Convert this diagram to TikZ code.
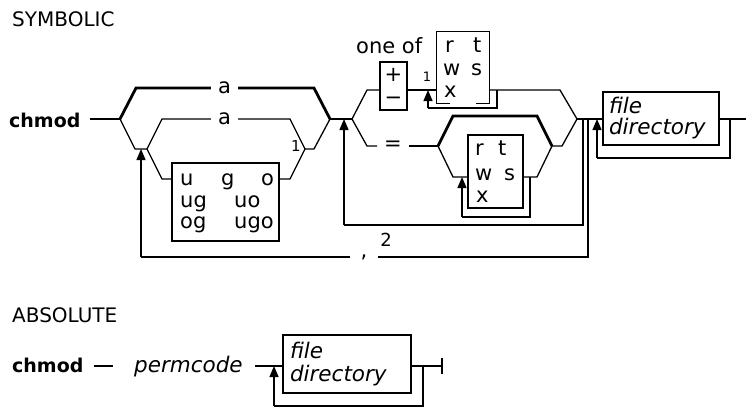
\documentclass[tikz,border=0pt]{standalone}
\usepackage{fontspec}
\setmainfont{DejaVu Sans}
\usetikzlibrary{arrows.meta}

\tikzset{
  rail/.style={line width=1.3pt},
  railbold/.style={line width=2.8pt},
  uparrow/.style={rail, -{Triangle[width=9pt,length=11pt]}},
  termbox/.style={draw, line width=1.3pt, inner sep=0pt},
  word/.style={inner sep=0pt, font=\fontsize{21}{24}\selectfont},
  headword/.style={inner sep=0pt, font=\fontsize{19}{22}\selectfont\bfseries},
  title/.style={inner sep=0pt, anchor=west, font=\fontsize{20}{22}\selectfont},
  param/.style={inner sep=0pt, font=\fontsize{21.5}{21}\selectfont\itshape},
  count/.style={inner sep=0pt, font=\fontsize{15}{17}\selectfont},
}

\begin{document}
\begin{tikzpicture}[x=1pt,y=-1pt,line join=miter]
\useasboundingbox (0,0) rectangle (746,408);

% SYMBOLIC
\node[title] (symT) at (12,19) {SYMBOLIC};
\node[headword, anchor=base west] (chmodS) at (9,127) {chmod};

% who: a / a / ugo
\coordinate (s0) at (120,119);
\coordinate (s1) at (330,119);
\coordinate (tL) at (136,88);
\coordinate (tR) at (314,88);
\coordinate (m1) at (135,149);
\coordinate (m2) at (147,149);
\coordinate (n1) at (305,149);
\coordinate (n2) at (314,149);
\coordinate (uL) at (162,119);
\coordinate (uR) at (290,119);
\coordinate (bL) at (162,179);
\coordinate (bR) at (290,179);

\node[word, inner xsep=7pt] (aAll) at (224.5,88) {a};
\node[word, inner xsep=7pt] (aOne) at (224.5,119) {a};
\node[termbox, minimum width=107pt, minimum height=78pt] (who) at (225.5,202) {};
\node[word, anchor=base west] (who1) at (180,185) {\makebox[41pt][l]{u}\makebox[40pt][l]{g}o};
\node[word, anchor=base west] (who2) at (180,207) {\makebox[54pt][l]{ug}uo};
\node[word, anchor=base west] (who3) at (180,228) {\makebox[54pt][l]{og}ugo};
\node[count] (oneWho) at (296,146) {1};

\draw[rail, shorten <=9pt] (chmodS.east |- s0) -- (s0);
\draw[railbold] (s0) -- (tL) -- (aAll.west);
\draw[railbold] (aAll.east) -- (tR) -- (s1);
\draw[rail] (s0) -- (m1) -- (m2) -- (uL) -- (aOne.west);
\draw[rail] (aOne.east) -- (uR) -- (n1) -- (n2) -- (s1);
\draw[rail] (m2) -- (bL) -- (bL -| who.west);
\draw[rail] (who.east |- bR) -- (bR) -- (n1);

% op and permissions
\coordinate (s2) at (352,119);
\coordinate (pL) at (367,90);
\coordinate (pR) at (560,90);
\coordinate (qL) at (367,146);
\coordinate (qR) at (562,146);
\coordinate (s3) at (577,119);
\coordinate (iL) at (438,146);
\coordinate (iR) at (552,146);
\coordinate (kL) at (453,116);
\coordinate (kR) at (537,116);
\coordinate (hL) at (453,177);
\coordinate (hR) at (537,177);

\node[word, anchor=base west] (oneof) at (356,53) {one of};
\node[termbox, minimum width=27pt, minimum height=48pt] (sign) at (393.5,86) {};
\node[word, anchor=base] (plus) at (393.5,81) {+};
\node[word, anchor=base] (minus) at (393.5,104) {−};
\node[inner sep=0pt, minimum width=52pt, minimum height=71pt] (permT) at (463,67.5) {};
\node[word, anchor=base west] (permT1) at (445,52) {\makebox[28pt][l]{r}t};
\node[word, anchor=base west] (permT2) at (443,75) {\makebox[28pt][l]{w}s};
\node[word, anchor=base west] (permT3) at (444,97) {x};
\node[count, font=\fontsize{13}{15}\selectfont] (onePerm) at (427,77) {1};
\node[word, inner xsep=7pt] (eq) at (393,146) {=};
\node[termbox, minimum width=55pt, minimum height=73pt] (permB) at (495.5,171.5) {};
\node[word, anchor=base west] (permB1) at (475,155) {\makebox[23pt][l]{r}t};
\node[word, anchor=base west] (permB2) at (475,180) {\makebox[29pt][l]{w}s};
\node[word, anchor=base west] (permB3) at (476,202) {x};

\draw[rail] ([xshift=13pt]permT.south west) -- (permT.south west) -- (permT.north west)
  -- (permT.north east) -- (permT.south east) -- ([xshift=-13pt]permT.south east);
\draw[rail] (s1) -- (s2);
\draw[rail] (s2) -- (pL) -- (pL -| sign.west);
\draw[rail] (sign.east |- pL) -- (pL -| permT.west);
\draw[rail] (permT.east |- pL) -- (pR) -- (s3);
\draw[rail] (s2) -- (qL) -- (eq.west);
\draw[rail] (eq.east) -- (iL);
\draw[railbold] (iL) -- (kL) -- (kR) -- (iR);
\draw[rail] (iR) -- (qR) -- (s3);
\draw[rail] (iL) -- (hL) -- (hL -| permB.west);
\draw[rail] (permB.east |- hR) -- (hR) -- (iR);

% loops back
\coordinate (r1a) at (428,108);
\coordinate (r1b) at (497,108);
\draw[rail] (r1b |- pR) -- (r1b) -- (r1a);
\draw[uparrow] (r1a) -- (r1a |- pL);

\coordinate (r2a) at (462,217);
\coordinate (r2b) at (530,217);
\draw[rail] (r2b |- hR) -- (r2b) -- (r2a);
\draw[uparrow] (r2a) -- (r2a |- hL);

\coordinate (r3a) at (344,225);
\coordinate (r3b) at (583,225);
\node[count, font=\fontsize{18}{20}\selectfont] (two) at (386,240) {2};
\draw[rail] (r3b |- s3) -- (r3b) -- (r3a);
\draw[uparrow] (r3a) -- (r3a |- s1);

\coordinate (r4a) at (141,257);
\coordinate (r4b) at (588,257);
\node[word, inner xsep=10pt] (comma) at (364,257) {,};
\draw[rail] (r4b |- s3) -- (r4b) -- (comma.east |- r4b);
\draw[rail] (comma.west |- r4a) -- (r4a);
\draw[uparrow] (r4a) -- (r4a |- m1);

% file or directory
\node[termbox, param, minimum width=116pt, minimum height=53pt, text width=104pt, align=left] (fileS) at (661,118.5) {file\\directory};
\coordinate (eS) at (746,119);
\coordinate (r5a) at (597,158);
\coordinate (r5b) at (730,158);
\draw[rail] (s3) -- (fileS.west |- s3);
\draw[rail] (fileS.east |- eS) -- (eS);
\draw[rail] (r5b |- eS) -- (r5b) -- (r5a);
\draw[uparrow] (r5a) -- (r5a |- s3);

% ABSOLUTE
\node[title] (absT) at (12,315) {ABSOLUTE};
\node[headword, anchor=base west] (chmodA) at (12,372) {chmod};
\node[param, anchor=base west] (pcode) at (134,372) {permcode};
\node[termbox, param, font=\fontsize{21.5}{23}\selectfont\itshape, minimum width=128pt, minimum height=58pt, text width=114pt, align=left] (fileA) at (347,364) {file\\directory};
\coordinate (rowA) at (0,366);
\coordinate (eA) at (442,366);
\coordinate (r6a) at (274,406);
\coordinate (r6b) at (423,406);
\draw[rail, shorten <=10pt, shorten >=21pt] (chmodA.east |- rowA) -- (pcode.west |- rowA);
\draw[rail, shorten <=12pt] (pcode.east |- rowA) -- (fileA.west |- rowA);
\draw[rail] (fileA.east |- eA) -- (eA);
\draw[rail] ([yshift=8pt]eA) -- ([yshift=-8pt]eA);
\draw[rail] (r6b |- eA) -- (r6b) -- (r6a);
\draw[uparrow] (r6a) -- (r6a |- eA);

\end{tikzpicture}
\end{document}
